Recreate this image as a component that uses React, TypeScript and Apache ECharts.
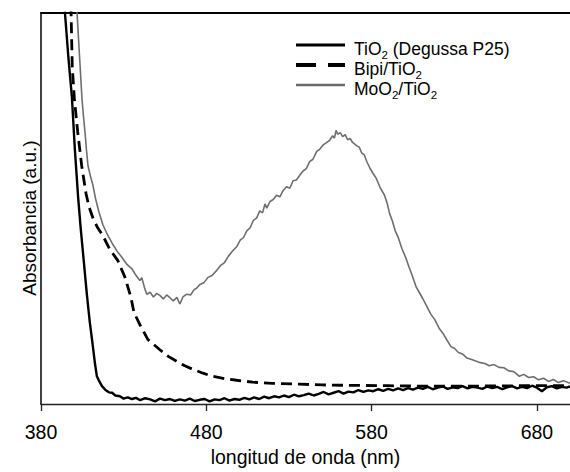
import React, { useEffect, useRef } from "react";
import * as echarts from "echarts";

const xTicks = [380, 480, 580, 680];

const tio2: number[][] = [
  [392, 115], [394.5, 100], [396.5, 89], [398.7, 78.5], [400.5, 65], [402.4, 53.2], [404, 45], [406, 36],
  [407.8, 27.8], [409.5, 21], [411.4, 14.7], [412.6, 10.5], [413.8, 7.1], [415.3, 5.8], [416.9, 4.6],
  [419, 3.6], [421.1, 3.0], [423, 2.9], [425, 2.2], [427.7, 2.0], [430, 1.4], [432.5, 1.7], [435, 1.3],
  [437.5, 1.6], [440, 1.0], [443, 1.5], [446, 1.2], [449, 0.7], [452, 1.4], [455, 1.0], [458, 1.3],
  [461, 0.8], [464, 1.2], [467, 0.9], [470, 1.4], [473, 0.8], [476, 1.1], [479, 1.3], [482, 0.7],
  [485, 1.2], [488, 1.0], [491, 1.5], [494, 0.9], [497, 1.3], [500, 1.1], [503, 1.6], [506, 1.2],
  [509, 1.7], [512, 1.3], [515, 1.9], [518, 1.5], [521, 2.0], [524, 1.7], [527, 2.2], [530, 1.8],
  [533, 2.4], [536, 2.0], [539, 2.3], [542, 2.7], [545, 2.2], [548, 2.6], [551, 3.1], [554, 2.5],
  [557, 2.9], [560, 3.3], [563, 2.7], [566, 3.2], [569, 3.0], [572, 3.6], [575, 3.1], [578, 3.5],
  [581, 3.3], [584, 3.8], [587, 3.4], [590, 3.9], [593, 3.5], [596, 4.0], [599, 3.6], [602, 4.1],
  [605, 3.7], [608, 4.2], [611, 3.9], [614, 4.4], [617, 3.8], [620, 4.2], [623, 4.5], [626, 3.9],
  [629, 4.3], [632, 4.1], [635, 4.6], [638, 4.0], [641, 4.4], [644, 4.2], [647, 3.9], [650, 4.5],
  [653, 4.1], [656, 4.4], [659, 3.8], [662, 4.3], [665, 4.6], [668, 4.0], [671, 4.4], [674, 4.1],
  [677, 4.7], [680, 4.2], [683, 3.3], [686, 4.3], [689, 4.6], [692, 4.0], [695, 4.4], [698, 4.2],
  [700, 4.5],
];

const bipi: number[][] = [
  [397, 115], [398.2, 100], [398.9, 86.3], [400.2, 78], [402.2, 69.6], [404.6, 61], [407.2, 53.9],
  [409, 50.5], [411.4, 47.6], [414, 45.3], [417.5, 43], [421.7, 39.5], [426.5, 36.7], [430.8, 32.4],
  [434.4, 27.3], [436.2, 23.5], [439.8, 20.3], [444.7, 16.5], [451.9, 13.9], [457, 12.2], [462.2, 10.9],
  [467, 9.8], [471.8, 8.9], [478, 7.9], [483.9, 7.1], [491, 6.5], [498.4, 6.1], [508.1, 5.6], [520, 5.3],
  [536.5, 5.1], [550, 4.9], [566.7, 4.8], [590, 4.7], [609, 4.6], [640, 4.6], [670, 4.7], [700, 4.7],
];

const moo2: number[][] = [
  [400.5, 115], [401.8, 100], [403.3, 89], [404.8, 78], [405.7, 73.5], [406.6, 69.6], [407.5, 65],
  [408.4, 61], [409.9, 58.3], [411.4, 56], [413, 52.5], [415, 49.2], [417.5, 45.8], [420, 43.5],
  [423.5, 40.8], [426, 39.1], [429, 37.5], [432, 35.7], [435, 34.6], [437, 33.2], [439.8, 31.6],
  [441, 32.3], [442.5, 29.9], [444, 28.1], [446, 28.6], [448, 27.4], [450, 28.3], [451.9, 27.8],
  [454, 26.9], [456, 27.9], [458, 27.2], [460, 26.4], [462.2, 27.3], [464, 25.6], [466, 27.5],
  [468.2, 28.1], [470.5, 27.9], [472.5, 29.2], [474.5, 29.8], [476.1, 30.6], [478.5, 31.0], [481, 32.4],
  [483.5, 32.9], [486.3, 34.2], [488.5, 35.4], [491, 36.2], [493.5, 37.9], [496, 39.2], [498.5, 40.3],
  [500.5, 41.9], [502.5, 42.6], [504.5, 44.3], [506.5, 45.1], [508.5, 47.0], [510.5, 47.6], [512.3, 49.4],
  [514, 48.9], [515.5, 51.2], [516.6, 50.1], [518.5, 51.8], [520.5, 52.3], [522.5, 53.4], [524.5, 53.0],
  [526.2, 54.4], [528.5, 55.6], [530.5, 55.2], [532.5, 57.1], [534.5, 57.3], [536.5, 58.5], [538.5, 59.6],
  [540.5, 60.2], [542.5, 62.0], [544.5, 62.6], [546.8, 64.6], [548.5, 65.1], [550.5, 66.2], [552.5, 66.8],
  [554.5, 67.4], [556.4, 68.6], [557.5, 68.0], [558.5, 70.0], [559.5, 69.0], [561, 69.4], [562.5, 68.4],
  [564, 68.9], [565.5, 67.6], [567, 67.9], [568.5, 66.9], [570.9, 66.1], [572.5, 65.7], [574, 64.2],
  [575.5, 63.8], [577, 62.1], [579, 60.3], [581, 58.9], [582.7, 57.8], [585, 55.5], [587.8, 53.4],
  [589.3, 51.5], [590.9, 48.7], [592.5, 46.9], [594.3, 44.3], [596.2, 42.5], [598.3, 39.8], [600.6, 37.5],
  [602.5, 35.2], [604.6, 32.8], [607, 29.9], [608.8, 28.6], [610.9, 27.0], [613, 25.3], [615.8, 23.0],
  [618.2, 21.6], [620.8, 19.4], [623.3, 18.0], [625.8, 16.2], [628, 14.7], [630.2, 14.2], [632.5, 13.2],
  [635, 12.8], [637.6, 11.8], [640.5, 11.4], [643, 11.0], [645.8, 10.6], [648.5, 10.4], [651.2, 9.8],
  [654, 10.1], [657, 9.4], [660, 9.3], [663, 8.5], [666, 8.3], [669.4, 7.1], [672, 7.6], [675, 6.8],
  [678, 7.0], [681, 6.2], [684, 6.6], [687, 5.8], [690, 6.3], [693, 5.5], [696, 6.0], [700, 5.3],
];

const FONT = "'Liberation Sans', Arial, Helvetica, sans-serif";

export default function App() {
  const ref = useRef<HTMLDivElement>(null);
  useEffect(() => {
    if (!ref.current) return;
    const chart = echarts.init(ref.current, null, { renderer: "svg" });
    const legendRows = [
      { y: 45, name: "{b|TiO}{s|2}{b| (Degussa P25)}", color: "#000", width: 3, dash: null as any },
      { y: 65, name: "{b|Bipi/TiO}{s|2}", color: "#000", width: 4, dash: [20, 12] },
      { y: 85, name: "{b|MoO}{s|2}{b|/TiO}{s|2}", color: "#6a6a6a", width: 2.5, dash: null as any },
    ];
    const graphics: any[] = [];
    legendRows.forEach((r) => {
      graphics.push({
        type: "line",
        shape: { x1: 296, y1: r.y, x2: 345, y2: r.y },
        style: { stroke: r.color, lineWidth: r.width, lineDash: r.dash || undefined },
      });
      graphics.push({
        type: "text",
        x: 354,
        y: r.y + 1.5,
        style: {
          text: r.name,
          fill: "#000",
          verticalAlign: "middle",
          rich: {
            b: { fontSize: 17.5, fontFamily: FONT, lineHeight: 14, verticalAlign: "top", fill: "#000" },
            s: {
              fontSize: 11.5,
              fontFamily: FONT,
              lineHeight: 8,
              padding: [9, 0, 0, 0],
              verticalAlign: "top",
              fill: "#000",
            },
          },
        },
      });
    });
    graphics.push({
      type: "text",
      x: 29,
      y: 218,
      rotation: Math.PI / 2,
      style: {
        text: "Absorbancia (a.u.)",
        fontSize: 19,
        fontFamily: FONT,
        fill: "#000",
        align: "center",
        verticalAlign: "middle",
      },
    });
    chart.setOption({
      animation: false,
      grid: { left: 41, right: -2, top: 13, bottom: 64, containLabel: false },
      xAxis: [
        {
          type: "value",
          min: 380,
          max: 700,
          interval: 100,
          name: "longitud de onda (nm)",
          nameLocation: "middle",
          nameGap: 42,
          nameTextStyle: { fontSize: 19.5, fontFamily: FONT, color: "#000" },
          axisLine: { show: true, onZero: false, lineStyle: { color: "#222", width: 1.3 } },
          axisTick: { show: true, length: 7, customValues: xTicks, lineStyle: { color: "#222", width: 1.3 } },
          axisLabel: { customValues: xTicks, fontSize: 19.5, fontFamily: FONT, color: "#000", margin: 18 },
          splitLine: { show: false },
        },
        {
          type: "value",
          position: "top",
          min: 380,
          max: 700,
          axisLine: { show: true, onZero: false, lineStyle: { color: "#000", width: 2 } },
          axisTick: { show: false },
          axisLabel: { show: false },
          splitLine: { show: false },
        },
      ],
      yAxis: {
        type: "value",
        min: 0,
        max: 100,
        axisLine: { show: true, onZero: false, lineStyle: { color: "#111", width: 1.6 } },
        axisTick: { show: false },
        axisLabel: { show: false },
        splitLine: { show: false },
      },
      series: [
        {
          type: "line",
          name: "MoO2/TiO2",
          data: moo2,
          showSymbol: false,
          symbol: "none",
          clip: true,
          lineStyle: { color: "#6e6e6e", width: 1.6 },
          z: 2,
        },
        {
          type: "line",
          name: "Bipi/TiO2",
          data: bipi,
          showSymbol: false,
          symbol: "none",
          clip: true,
          lineStyle: { color: "#000", width: 2.8, type: [11, 6] },
          z: 3,
        },
        {
          type: "line",
          name: "TiO2 (Degussa P25)",
          data: tio2,
          showSymbol: false,
          symbol: "none",
          clip: true,
          lineStyle: { color: "#000", width: 2.4 },
          z: 4,
        },
      ],
      graphic: graphics,
    });
    return () => chart.dispose();
  }, []);
  return (
    <div
      ref={ref}
      style={{ position: "fixed", left: 0, top: 0, width: 570, height: 472, background: "#fff" }}
    />
  );
}
